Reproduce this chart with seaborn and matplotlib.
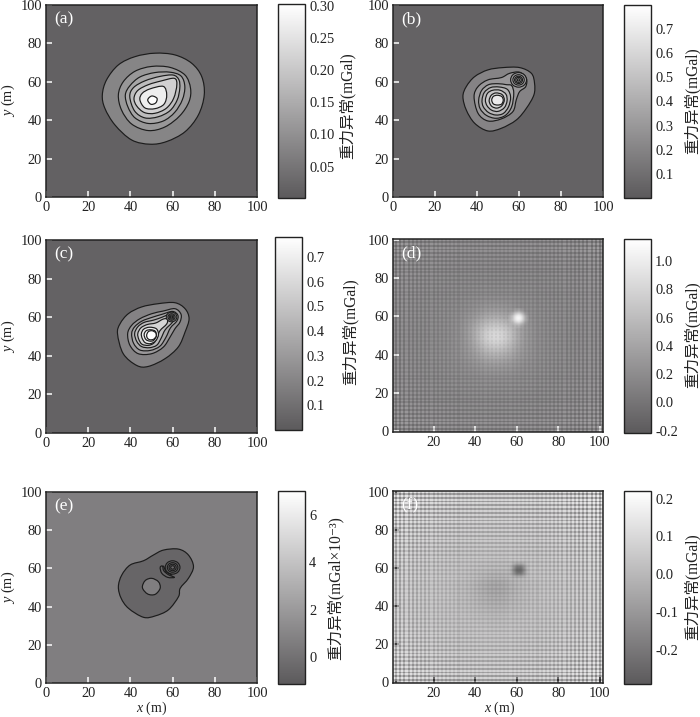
import numpy as np
import matplotlib
matplotlib.use("Agg")
import matplotlib.pyplot as plt
import seaborn as sns
from matplotlib.colors import LinearSegmentedColormap, Normalize
from matplotlib.cm import ScalarMappable
from matplotlib.path import Path
from matplotlib.patches import PathPatch, Ellipse

# ---------- contour outlines (x, y in metres) ----------
a1 = [(51.6,74.9),(61.1,74),(69,69.7),(73.8,62.7),(75,53.2),(72.2,42.7),(65.9,34),(57.2,28.9),(49.3,27.5),(40.6,29.7),(32.7,37.5),(27.9,46.2),(26.7,53.2),(28.7,61),(34.3,68.8),(42.2,73.1)]
a2 = [(34.3,53.2),(36.6,60),(42.2,65.5),(50.1,68),(58.8,67.5),(65.9,63.5),(68.5,56.6),(67.8,49.7),(63.5,42.4),(56.4,36.5),(48.5,34.6),(40.6,38),(35.8,45.3)]
a3 = [(37.6,53.2),(39.8,58),(44.5,62.5),(51.6,64.8),(58.8,65),(64,63),(65.8,57.5),(64.6,50.6),(61,44.1),(55.6,39.6),(48.5,38.3),(42.2,41.2),(38.8,47)]
a4 = [(39.7,52.3),(41.5,57),(46.9,60.5),(54,62.8),(60.3,63.5),(63,61),(63.4,56.6),(62.2,50.6),(58.8,45),(53.2,41.8),(46.9,41.2),(42,44.8)]
a5 = [(41.7,51.4),(43.5,55.5),(48.5,58.5),(54.8,60.5),(60.8,61.8),(62,58.5),(60.5,51.4),(57,46.2),(51.6,43.6),(46.6,44),(43,47.4)]
a6 = [(44.5,50.6),(45.6,54),(49.3,56.3),(55.6,57.6),(57.2,53.2),(55.9,48.3),(51.6,46),(46.9,46.4)]
a7 = [(48.2,50.6),(50.1,52.6),(52.6,51.4),(52,49),(49.7,48.3)]
a_levels = [0.08, 0.113, 0.14, 0.18, 0.218, 0.27, 0.30]

b1 = [(33.3,52.3),(34.9,57.5),(38.9,62.7),(45.2,66.2),(52.4,67.4),(60.3,67.4),(65.9,64.4),(67.4,59.2),(67.1,53.2),(63.5,46.2),(58.7,40.1),(51.6,35.8),(45.2,34.4),(38.9,38.4),(34.9,45.3)]
b2 = [(38.6,52.3),(40.5,57.5),(45.2,61),(51.6,62.2),(55.5,64.4),(60.3,65),(63.5,61.8),(63.2,57.5),(60.3,54.9),(58.7,50.6),(57.1,44.5),(51.6,40.7),(45.2,39.6),(40.5,43.6)]
b3 = [(40.8,50.5),(42.2,55.5),(45.5,58.5),(50,59),(54,58.5),(56.5,58),(57.5,54),(56.5,47),(53.5,42.5),(49,41),(44.5,42.5),(41.5,46)]
b4 = [(42.4,50.5),(43.5,54.5),(46.5,57),(50.5,57.3),(54.5,56),(56,52),(55,47),(52.5,43.5),(49,42.7),(45.5,44),(43,47)]
b5 = [(44,50.5),(45,54),(47.5,55.6),(51,55.6),(53.8,53.5),(54.3,50),(53,46.5),(50,44.6),(47,45.2),(44.8,47.5)]
b6 = [(45.8,50.5),(46.8,53),(49,54.2),(52,53.3),(53,50.5),(51.8,47.5),(49.5,46.3),(47.3,47),(46.2,48.5)]
b7 = [(47,50.5),(47.8,52.4),(49.7,53),(51.8,52.3),(52.5,50.4),(51.7,48.4),(49.7,47.9),(47.8,48.5)]
b_levels = [0.2, 0.3, 0.38, 0.45, 0.53, 0.6, 0.7]
b_spot_r = [3.8, 2.7, 1.9, 1.3, 0.6]
b_spot_v = [0.3, 0.38, 0.3, 0.45, 0.25]

c1 = [(33.9,51.4),(35.1,56.6),(39,61.8),(45.3,65.3),(53.2,67),(61.1,67.5),(65.9,64.4),(67.8,59.2),(65.9,52.3),(62.7,44.6),(56.4,38.5),(48.5,34.5),(43,35),(36.6,41.1)]
c2 = [(38.7,51.5),(40.6,55.8),(44.5,59.2),(50.1,61.8),(55.6,63.2),(61.1,64.4),(64,61.5),(63.5,57.5),(61.1,54),(58.8,49.7),(55.6,44.5),(50.1,41.1),(43.7,41.1),(39.8,45.4)]
c3 = [(40.6,51.5),(42,55),(45.5,58),(50.5,60),(55,61.5),(60,63),(62.5,61),(62,58),(59,54.5),(56.8,49.5),(54,45),(49.5,42.8),(44.5,43),(41.5,46.5)]
c4 = [(42,51.5),(43.5,55),(46.5,57.3),(51,58.5),(55,60),(59.5,62),(61,60.5),(60,57.5),(56.5,53.5),(54.5,49),(52.5,45.5),(49,44.2),(45.3,44.8),(43,47.5)]
c5 = [(43.5,51.5),(45,54.5),(48,56.2),(52,57),(55.5,59),(57.5,59),(57.2,56.5),(54,53),(52.5,49),(51,46.5),(48.5,45.4),(45.5,46),(44,48.5)]
c6 = [(45.2,51.5),(46.3,53.8),(49,54.8),(52.3,54),(53.3,51),(52,47.8),(49.5,46.3),(47,46.8),(45.6,49)]
c7 = [(46.5,51),(47.5,53),(49.7,53.5),(51.8,52.7),(52.3,50.3),(51,48),(49.2,47.6),(47.3,48.5)]
c8 = [(47.7,50.7),(48.5,52.5),(50.2,53),(51.9,52),(52.2,50.2),(51,48.6),(49.3,48.3),(48.1,49.1)]
c_levels = [0.19, 0.29, 0.37, 0.46, 0.58, 0.69, 0.74, 0.78]
c_spot_r = [2.5, 1.7, 1.1, 0.5]
c_spot_v = [0.25, 0.3, 0.22, 0.28]

e1 = [(34.3,50.4),(35.9,56.5),(39.9,61.8),(46.2,64),(50.9,67),(55.7,69.6),(62.8,70.1),(67.5,67),(69.9,60.9),(67.5,54.8),(63.6,49.6),(62.8,45.2),(58,38.3),(51.7,35.1),(46.2,34.4),(39.1,39.1),(35.6,44.4)]
e_hole = [(45.7,49.9),(47,53.6),(50.1,54.8),(53.3,53),(54.1,49.6),(51.7,46.4),(48.2,46.6)]
e_cres = [(54.1,60.5),(54.9,57.4),(57.7,55.3),(60.9,55.3),(58,56.7),(55.8,58.8),(55.2,61.2)]
e_arc = [(55.7,61.2),(56.8,58.3),(59.6,56.5)]
e_levels = [-0.6, 0.64]
e_spot_r = [3.5, 2.5, 1.7, 0.9]
e_spot_v = [-0.9, -0.5, -0.9, -0.4]

# ---------- slowly varying part of panels d, f: x = 0,5,...,100; y = 100,95,...,0 ----------
base_d = [
 [.10]*21, [.10]*21, [.10]*21, [.10]*21, [.10]*21,
 [.10,.10,.10,.10,.10,.11,.11,.12,.12,.13,.13,.13,.12,.12,.11,.11,.10,.10,.10,.10,.10],
 [.10,.10,.10,.10,.10,.11,.12,.13,.15,.16,.17,.16,.15,.13,.12,.11,.10,.10,.10,.10,.10],
 [.10,.10,.10,.10,.11,.12,.13,.15,.18,.22,.24,.22,.18,.15,.13,.12,.11,.10,.10,.10,.10],
 [.10,.10,.10,.10,.11,.13,.15,.19,.26,.38,.44,.38,.26,.19,.15,.13,.11,.10,.10,.10,.10],
 [.10,.10,.10,.10,.12,.13,.16,.23,.42,.62,.72,.62,.42,.23,.16,.13,.12,.10,.10,.10,.10],
 [.10,.10,.10,.10,.12,.14,.17,.24,.46,.80,.93,.80,.46,.24,.17,.14,.12,.10,.10,.10,.10],
 [.10,.10,.10,.10,.12,.14,.17,.23,.40,.66,.76,.66,.40,.23,.17,.14,.12,.10,.10,.10,.10],
 [.10,.10,.10,.10,.12,.13,.16,.21,.30,.44,.50,.44,.30,.21,.16,.13,.12,.10,.10,.10,.10],
 [.10,.10,.10,.10,.11,.13,.15,.17,.22,.28,.30,.28,.22,.17,.15,.13,.11,.10,.10,.10,.10],
 [.10,.10,.10,.10,.10,.12,.13,.15,.16,.19,.20,.19,.16,.15,.13,.12,.10,.10,.10,.10,.10],
 [.10,.10,.10,.10,.10,.11,.12,.13,.14,.15,.15,.15,.14,.13,.12,.11,.10,.10,.10,.10,.10],
 [.10,.10,.10,.10,.10,.10,.11,.12,.12,.13,.13,.13,.12,.12,.11,.10,.10,.10,.10,.10,.10],
 [.10,.10,.10,.10,.10,.10,.10,.10,.11,.11,.11,.11,.11,.10,.10,.10,.10,.10,.10,.10,.10],
 [.10]*21, [.10]*21, [.10]*21,
]
base_f = [
 [0.0]*21, [0.0]*21, [0.0]*21, [0.0]*21, [0.0]*21, [0.0]*21, [0.0]*21,
 [0,0,0,0,0,0,0,0,0,-.003,-.005,-.003,0,0,0,0,0,0,0,0,0],
 [0,0,0,0,0,0,0,0,-.01,-.015,-.02,-.015,-.01,0,0,0,0,0,0,0,0],
 [0,0,0,0,0,0,0,-.01,-.02,-.045,-.055,-.045,-.02,-.01,0,0,0,0,0,0,0],
 [0,0,0,0,0,0,-.005,-.015,-.035,-.07,-.085,-.07,-.035,-.015,-.005,0,0,0,0,0,0],
 [0,0,0,0,0,0,-.005,-.015,-.03,-.055,-.07,-.055,-.03,-.015,-.005,0,0,0,0,0,0],
 [0,0,0,0,0,0,0,-.01,-.02,-.035,-.04,-.035,-.02,-.01,0,0,0,0,0,0,0],
 [0,0,0,0,0,0,0,0,-.01,-.015,-.02,-.015,-.01,0,0,0,0,0,0,0,0],
 [0,0,0,0,0,0,0,0,0,-.005,-.01,-.005,0,0,0,0,0,0,0,0,0],
 [0.0]*21, [0.0]*21, [0.0]*21, [0.0]*21, [0.0]*21, [0.0]*21,
]
# small peak near (61, 59): 7 x 7 cells, in mGal above the background
spot_d = [[0,0,.05,.09,.05,0,0],[0,.09,.28,.42,.28,.09,0],[.05,.28,.70,.90,.70,.28,.05],[.09,.42,.90,1.0,.90,.42,.09],[.05,.28,.70,.90,.70,.28,.05],[0,.09,.28,.42,.28,.09,0],[0,0,.05,.09,.05,0,0]]
spot_f = [[0,0,0,0,0,0,0],[0,-.04,-.08,-.09,-.08,-.04,0],[0,-.08,-.21,-.25,-.21,-.08,0],[0,-.09,-.25,-.27,-.25,-.09,0],[0,-.08,-.21,-.25,-.21,-.08,0],[0,-.04,-.08,-.09,-.08,-.04,0],[0,0,0,0,0,0,0]]

# ---------- fine stripes (mGal) for columns x = 1..101 and rows y = 0..100 ----------
ripple_dx = [.14,-.13,.12,-.12,.11,-.11,.10,-.10,.09,-.09,.09,-.08,.08,-.08,.08,-.07,.07,-.07,.07,-.07,
 .06,-.06,.06,-.06,.06,-.06,.05,-.05,.05,-.05,.05,-.05,.05,-.05,.04,-.04,.04,-.04,.04,-.04,
 .04,-.04,.04,-.04,.04,-.04,.04,-.04,.04,-.04,.04,-.04,.04,-.04,.04,-.04,.04,-.04,.04,-.04,
 .04,-.04,.04,-.05,.05,-.05,.05,-.05,.05,-.05,.05,-.06,.06,-.06,.06,-.06,.06,-.07,.07,-.07,
 .07,-.07,.08,-.08,.08,-.08,.09,-.09,.09,-.10,.10,-.10,.11,-.11,.12,-.12,.13,-.13,.14,-.14,.15]
ripple_dy = [.13,-.13,.12,-.12,.11,-.11,.11,-.10,.10,-.10,.09,-.09,.09,-.08,.08,-.08,.07,-.07,.07,-.07,
 .06,-.06,.06,-.06,.06,-.05,.05,-.05,.05,-.05,.05,-.04,.04,-.04,.04,-.04,.04,-.04,.04,-.04,
 .03,-.03,.03,-.03,.03,-.03,.03,-.03,.03,-.03,.03,-.03,.03,-.03,.03,-.03,.03,-.03,.04,-.04,
 .04,-.04,.04,-.04,.04,-.04,.04,-.04,.04,-.05,.05,-.05,.05,-.05,.05,-.05,.06,-.06,.06,-.06,
 .06,-.07,.07,-.07,.07,-.08,.08,-.08,.08,-.09,.09,-.09,.09,-.10,.10,-.10,.11,-.11,.11,-.12,.12]
ripple_fx = [.13,-.12,.12,-.11,.11,-.10,.10,-.09,.09,-.09,.08,-.08,.08,-.07,.07,-.07,.07,-.06,.06,-.06,
 .06,-.05,.05,-.05,.05,-.05,.04,-.04,.04,-.04,.04,-.04,.03,-.03,.03,-.03,.03,-.03,.03,-.03,
 .03,-.02,.02,-.02,.02,-.02,.02,-.02,.02,-.02,.02,-.02,.02,-.02,.02,-.02,.03,-.03,.03,-.03,
 .03,-.03,.03,-.03,.03,-.04,.04,-.04,.04,-.04,.04,-.05,.05,-.05,.05,-.05,.06,-.06,.06,-.06,
 .07,-.07,.07,-.08,.08,-.08,.09,-.09,.10,-.10,.10,-.11,.11,-.12,.12,-.12,.13,-.13,.14,-.14,.15]
ripple_fy = [.14,-.14,.13,-.13,.12,-.12,.12,-.11,.11,-.10,.10,-.10,.09,-.09,.09,-.08,.08,-.08,.07,-.07,
 .07,-.06,.06,-.06,.06,-.05,.05,-.05,.05,-.04,.04,-.04,.04,-.04,.03,-.03,.03,-.03,.03,-.03,
 .03,-.03,.03,-.03,.03,-.03,.03,-.03,.03,-.03,.03,-.03,.03,-.03,.04,-.04,.04,-.04,.04,-.04,
 .05,-.05,.05,-.05,.05,-.06,.06,-.06,.06,-.07,.07,-.07,.07,-.08,.08,-.08,.08,-.09,.09,-.09,
 .10,-.10,.10,-.10,.11,-.11,.11,-.12,.12,-.12,.12,-.13,.13,-.13,.13,-.14,.14,-.14,.14,-.15,.15]

# ---------- labels ----------
panel_names = ["(a)", "(b)", "(c)", "(d)", "(e)", "(f)"]
cb_label = "重力异常(mGal)"
cb_label_e = "重力异常(mGal×10⁻³)"
ticks_xy = [0, 20, 40, 60, 80, 100]
cb_ticks_a = [0.05, 0.10, 0.15, 0.20, 0.25, 0.30]
cb_ticks_b = [0.1, 0.2, 0.3, 0.4, 0.5, 0.6, 0.7]
cb_ticks_d = [-0.2, 0.0, 0.2, 0.4, 0.6, 0.8, 1.0]
cb_ticks_e = [0, 2, 4, 6]
cb_ticks_f = [-0.2, -0.1, 0.0, 0.1, 0.2]

# ---------- style ----------
sns.set_style("white")
plt.rcParams["font.family"] = ["Liberation Serif", "Noto Sans CJK SC", "DejaVu Sans"]
plt.rcParams["mathtext.fontset"] = "custom"
plt.rcParams["mathtext.it"] = "Liberation Serif:italic"
plt.rcParams["mathtext.rm"] = "Liberation Serif"
INK = "#222222"
FS = 10.4

W, H = 700, 717
fig = plt.figure(figsize=(W / 100, H / 100), dpi=100, facecolor="white")
cmap = LinearSegmentedColormap.from_list("g", ["#5c5a5c", "#ffffff"])


def rect(l, r, t, b):
    return [l / W, 1 - b / H, (r - l) / W, (b - t) / H]


def closed_curve(points):
    """Closed smooth path running through the read points."""
    p = np.array(points, dtype=float)
    prev, nxt, nxt2 = np.roll(p, 1, axis=0), np.roll(p, -1, axis=0), np.roll(p, -2, axis=0)
    c1_pts = p + (nxt - prev) / 6
    c2_pts = nxt - (nxt2 - p) / 6
    verts = [p[0]]
    codes = [Path.MOVETO]
    for a, b, end in zip(c1_pts, c2_pts, nxt):
        verts += [a, b, end]
        codes += [Path.CURVE4] * 3
    return Path(np.array(verts), codes)


def colorbar(box, norm, ticks, fmt, label, label_xy):
    cax = fig.add_axes(rect(*box))
    cb = fig.colorbar(ScalarMappable(norm=norm, cmap=cmap), cax=cax)
    cb.set_ticks(ticks)
    cb.set_ticklabels([fmt % t for t in ticks])
    cax.tick_params(axis="y", direction="in", length=5, width=0.9, color=INK,
                    labelsize=FS, labelcolor=INK, pad=3)
    cb.outline.set_edgecolor(INK)
    cb.outline.set_linewidth(1.0)
    fig.text(label_xy[0] / W, 1 - label_xy[1] / H, label, rotation=90, ha="center",
             va="center", fontsize=11.2, color=INK)


def dress(ax, name, tick_col, xoff=0.0, yoff=0.0, xticks=ticks_xy, ylabel=False, xlabel=False):
    ax.set_xticks([t + xoff for t in xticks])
    ax.set_xticklabels([str(t) for t in xticks])
    ax.set_yticks([t + yoff for t in ticks_xy])
    ax.set_yticklabels([str(t) for t in ticks_xy], rotation=0)
    ax.tick_params(axis="both", direction="in", length=4, width=1.1, color=tick_col,
                   labelsize=FS, labelcolor=INK, pad=3, bottom=True, left=True)
    for s in ax.spines.values():
        s.set_visible(True)
        s.set_color(INK)
        s.set_linewidth(1.1)
    ax.text(0.04, 0.925, name, transform=ax.transAxes, color="white", fontsize=12.5,
            ha="left", va="center", zorder=6)
    if ylabel:
        fig.text(8 / W, 1 - ylabel / H, "$y$ (m)", rotation=90, ha="center", va="center",
                 fontsize=FS, color=INK)
    if xlabel:
        fig.text(xlabel[0] / W, 1 - xlabel[1] / H, "$x$ (m)", ha="center", va="center",
                 fontsize=10, color=INK)


def contour_panel(box, norm, bg, outlines, levels, name, spot=None, **kw):
    ax = fig.add_axes(rect(*box))
    ax.set_facecolor(cmap(norm(bg)))
    for pts, v in zip(outlines, levels):
        ax.add_patch(PathPatch(closed_curve(pts), facecolor=cmap(norm(v)),
                               edgecolor="#1c1c1c", lw=0.85, zorder=2))
    if spot:
        cx, cy, radii, vals = spot
        for r, v in zip(radii, vals):
            ax.add_patch(Ellipse((cx, cy), 2 * r, 2 * r, facecolor=cmap(norm(v)),
                                 edgecolor="#1c1c1c", lw=0.8, zorder=3))
    ax.set_xlim(0, 100)
    ax.set_ylim(0, 100)
    dress(ax, name, "white", **kw)
    return ax


def ripple_panel(box, norm, base, spot, spot_half, rx, ry, rnorm, dark_alpha, name, spot_cmap, spot_norm,
                 tick_col="white", **kw):
    ax = fig.add_axes(rect(*box))
    # display coordinate = x - 0.5 for columns, y + 0.5 for rows (cell centres of the heatmap)
    ax.imshow(np.array(base, dtype=float), cmap=cmap, norm=norm, origin="upper",
              extent=(-3, 102, -2, 103), aspect="auto", interpolation="bicubic", zorder=0)
    stripes = np.add.outer(np.array(ry), np.array(rx))
    sc = LinearSegmentedColormap.from_list(
        "s", [(0, (0, 0, 0, dark_alpha)), (0.5, (0, 0, 0, 0)), (0.5, (1, 1, 1, 0)), (1, (1, 1, 1, 1))])
    sns.heatmap(stripes, ax=ax, cmap=sc, vmin=-rnorm, vmax=rnorm, cbar=False,
                xticklabels=False, yticklabels=False)
    ax.imshow(np.array(spot, dtype=float), cmap=spot_cmap, norm=spot_norm, origin="upper",
              extent=(61 - 0.5 - spot_half, 61 - 0.5 + spot_half, 59 + 0.5 - spot_half, 59 + 0.5 + spot_half),
              aspect="auto", interpolation="bicubic", zorder=4)
    ax.set_xlim(0, 101)
    ax.set_ylim(0, 101)
    dress(ax, name, tick_col, xoff=-0.5, yoff=0.5, xticks=[20, 40, 60, 80, 100], **kw)
    return ax


# (a)
na = Normalize(0.001, 0.303)
contour_panel((46, 257, 5, 197), na, 0.015, [a1, a2, a3, a4, a5, a6, a7], a_levels, panel_names[0], ylabel=100)
colorbar((278, 305, 4, 198), na, cb_ticks_a, "%.2f", cb_label, (347, 106))

# (b)
nb = Normalize(0.0, 0.80)
contour_panel((393, 603, 5, 197), nb, 0.04, [b1, b2, b3, b4, b5, b6, b7], b_levels, panel_names[1],
              spot=(59.8, 61, b_spot_r, b_spot_v))
colorbar((624, 651, 5, 198), nb, cb_ticks_b, "%.1f", cb_label, (692, 101))

# (c)
nc = Normalize(0.0, 0.78)
contour_panel((46, 257, 240, 433), nc, 0.04, [c1, c2, c3, c4, c5, c6, c7, c8], c_levels, panel_names[2],
              spot=(59.5, 60.1, c_spot_r, c_spot_v), ylabel=336)
colorbar((275, 302, 237, 430), nc, cb_ticks_b, "%.1f", cb_label, (350, 332))

# (d)
nd = Normalize(-0.216, 1.157)
dark = LinearSegmentedColormap.from_list("dk", [(0.2, 0.2, 0.2, 0.62), (0.2, 0.2, 0.2, 0)])
light = LinearSegmentedColormap.from_list("lt", [(1, 1, 1, 0), (1, 1, 1, 1)])
ripple_panel((393, 603, 239, 432), nd, base_d, spot_d, 5, ripple_dx, ripple_dy, 1.05, 0.75, panel_names[3],
             light, Normalize(0, 1.0))
colorbar((624, 651, 239, 433), nd, cb_ticks_d, "%.1f", cb_label, (692, 335))

# (e)
ne = Normalize(-1.15, 7.02)
ax_e = contour_panel((46, 257, 492, 683), ne, e_levels[1], [e1, e_hole, e_cres], [e_levels[0], e_levels[1], e_levels[0]],
                     panel_names[4], spot=(60, 60.5, e_spot_r, e_spot_v), ylabel=587, xlabel=(152, 708))
ax_e.plot([p[0] for p in e_arc], [p[1] for p in e_arc], color="#1c1c1c", lw=0.9, zorder=3)
colorbar((278, 305, 491, 684), ne, cb_ticks_e, "%d", cb_label_e, (335, 588))

# (f)
nf = Normalize(-0.29, 0.22)
ripple_panel((393, 603, 491, 683), nf, base_f, spot_f, 5.25, ripple_fx, ripple_fy, 0.38, 0.42, panel_names[5],
             dark, Normalize(-0.27, 0), tick_col=INK, xlabel=(500, 708))
colorbar((624, 651, 491, 684), nf, cb_ticks_f, "%.1f", cb_label, (692, 587))

fig.savefig("out.png", dpi=100, facecolor="white")
